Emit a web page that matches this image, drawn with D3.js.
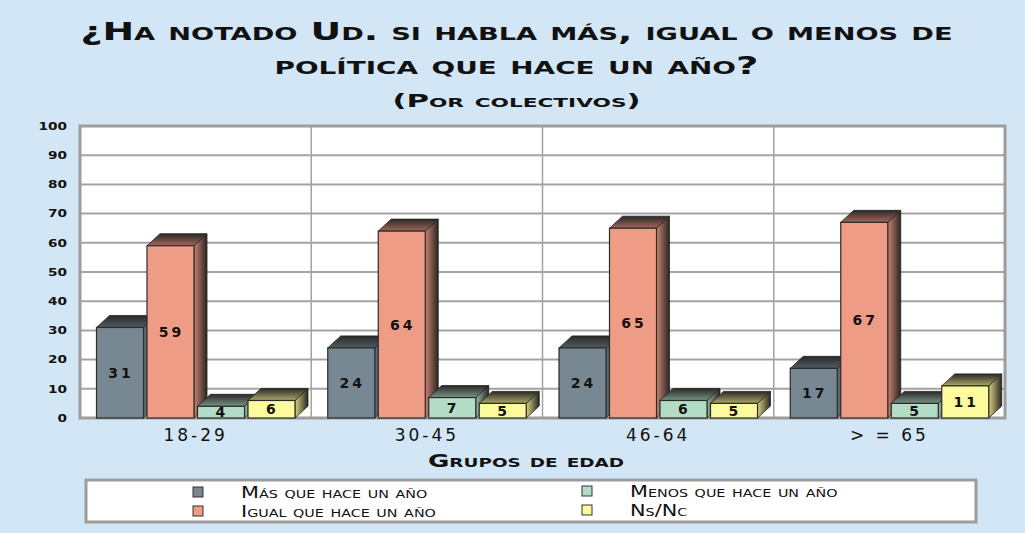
<!DOCTYPE html>
<html>
<head>
<meta charset="utf-8">
<script src="https://cdn.jsdelivr.net/npm/d3@7"></script>
<style>
  body { margin: 0; background: #d3e6f5; }
  svg { display: block; }
  text { font-family: "DejaVu Sans", sans-serif; font-weight: bold; font-variant: small-caps; fill: #111; }
</style>
</head>
<body>
<div id="chart"></div>
<script>
// data
const groups = ['18-29', '30-45', '46-64', '> = 65'];
const series = ['Más que hace un año', 'Igual que hace un año', 'Menos que hace un año', 'Ns/Nc'];
const mas = [31, 24, 24, 17];
const igual = [59, 64, 65, 67];
const menos = [4, 7, 6, 5];
const nsnc = [6, 5, 5, 11];
const yTicks = [0, 10, 20, 30, 40, 50, 60, 70, 80, 90, 100];

const colours = ['#778892', '#ef9c86', '#b2dcc6', '#fcfa9c'];
const values = [mas, igual, menos, nsnc];

const width = 1025, height = 533;
const depthX = 13, depthY = 12;

const svg = d3.select('#chart').append('svg')
  .attr('width', width)
  .attr('height', height);

svg.append('rect').attr('width', width).attr('height', height).attr('fill', '#d3e6f5');

const defs = svg.append('defs');
colours.forEach((c, i) => {
  const side = defs.append('linearGradient').attr('id', 'side' + i)
    .attr('x1', 0).attr('x2', 1).attr('y1', 0).attr('y2', 0);
  side.append('stop').attr('offset', '0%').attr('stop-color', d3.color(c).darker(0.5));
  side.append('stop').attr('offset', '100%').attr('stop-color', '#2a2522');
  const top = defs.append('linearGradient').attr('id', 'top' + i)
    .attr('x1', 0).attr('x2', 0).attr('y1', 0).attr('y2', 1);
  top.append('stop').attr('offset', '0%').attr('stop-color', '#2b2827');
  top.append('stop').attr('offset', '100%').attr('stop-color', d3.color(c).darker(1.1));
});

// titles
const titles = [
  { t: '¿Ha notado Ud. si habla más, igual o menos de', y: 40, len: 872, size: 25 },
  { t: 'política que hace un año?', y: 74, len: 484, size: 25 },
  { t: '(Por colectivos)', y: 107, len: 248, size: 17 }
];
svg.selectAll('text.title').data(titles).enter().append('text')
  .attr('class', 'title')
  .attr('x', width / 2 + 4)
  .attr('y', (d) => d.y)
  .attr('text-anchor', 'middle')
  .attr('textLength', (d) => d.len)
  .attr('lengthAdjust', 'spacingAndGlyphs')
  .style('font-size', (d) => d.size + 'px')
  .text((d) => d.t);

const x = d3.scaleBand().domain(groups).range([80, 1005]);
const xi = d3.scaleBand().domain(series).range([16.5, 215]).paddingInner(0.069);
const y = d3.scaleLinear().domain([0, 100]).range([418, 126]);

// plot background + grid
svg.append('rect')
  .attr('x', 80).attr('y', 126).attr('width', 925).attr('height', 292)
  .attr('fill', '#fff');

svg.append('g').selectAll('line').data(yTicks).enter().append('line')
  .attr('x1', 80).attr('x2', 1005)
  .attr('y1', (d) => y(d)).attr('y2', (d) => y(d))
  .attr('stroke', '#a3a3a3').attr('stroke-width', 2);

svg.append('g').selectAll('line').data(groups.slice(1)).enter().append('line')
  .attr('x1', (d) => x(d)).attr('x2', (d) => x(d))
  .attr('y1', 126).attr('y2', 418)
  .attr('stroke', '#a3a3a3').attr('stroke-width', 1.5);

svg.append('rect')
  .attr('x', 80).attr('y', 126).attr('width', 925).attr('height', 292)
  .attr('fill', 'none').attr('stroke', '#9c9c9c').attr('stroke-width', 3);

// y axis - wide, squat digits
const yAxis = svg.append('g')
  .attr('transform', 'translate(67,0)')
  .call(d3.axisLeft(y).tickValues(yTicks).tickSize(0).tickPadding(0));
yAxis.select('.domain').remove();
yAxis.selectAll('text')
  .style('font-size', '10px')
  .style('font-family', '"DejaVu Sans", sans-serif').style('font-weight', 'bold')
  .attr('textLength', (d) => String(d).length * 9.5)
  .attr('lengthAdjust', 'spacingAndGlyphs')
  .attr('fill', '#111');

// bars
const barData = [];
groups.forEach((g, gi) => {
  series.forEach((s, si) => {
    barData.push({ g, s, si, v: values[si][gi] });
  });
});

const bars = svg.append('g').selectAll('g.bar').data(barData).enter().append('g')
  .attr('class', 'bar');

bars.each(function (d) {
  const sel = d3.select(this);
  const x0 = x(d.g) + xi(d.s);
  const x1 = x0 + xi.bandwidth();
  const y0 = y(0);
  const y1 = y(d.v);
  // side face
  sel.append('path')
    .attr('d', `M${x1},${y1}L${x1 + depthX},${y1 - depthY}L${x1 + depthX},${y0 - depthY}L${x1},${y0}Z`)
    .attr('fill', `url(#side${d.si})`).attr('stroke', '#222').attr('stroke-width', 0.8);
  // top face
  sel.append('path')
    .attr('d', `M${x0},${y1}L${x0 + depthX},${y1 - depthY}L${x1 + depthX},${y1 - depthY}L${x1},${y1}Z`)
    .attr('fill', `url(#top${d.si})`).attr('stroke', '#222').attr('stroke-width', 0.8);
  // front face
  sel.append('rect')
    .attr('x', x0).attr('y', y1).attr('width', xi.bandwidth()).attr('height', y0 - y1)
    .attr('fill', colours[d.si]).attr('stroke', '#2b2b2b').attr('stroke-width', 1.2);
  sel.append('text')
    .attr('x', (x0 + x1) / 2 + 1)
    .attr('y', (y0 + y1) / 2 + 5)
    .attr('text-anchor', 'middle')
    .style('font-size', '14px').style('letter-spacing', '3px')
    .style('font-variant', 'normal')
    .text(d.v);
});

// x axis labels
const xAxis = svg.append('g')
  .attr('transform', 'translate(0,426)')
  .call(d3.axisBottom(x).tickSize(0).tickPadding(0));
xAxis.select('.domain').remove();
xAxis.selectAll('text')
  .attr('dy', '0.9em')
  .style('font-size', '17px').style('letter-spacing', '3px').style('font-weight', 'normal')
  .style('font-family', '"DejaVu Sans", sans-serif').style('font-variant', 'normal')
  .attr('fill', '#111');

svg.append('text')
  .attr('x', 526).attr('y', 467)
  .attr('text-anchor', 'middle')
  .attr('textLength', 196).attr('lengthAdjust', 'spacingAndGlyphs')
  .style('font-size', '17px')
  .text('Grupos de edad');

// legend
svg.append('rect')
  .attr('x', 86).attr('y', 480).attr('width', 890).attr('height', 42)
  .attr('fill', '#fff').attr('stroke', '#9c9c9c').attr('stroke-width', 3);

const legendPos = [
  { x: 193, y: 487 }, { x: 193, y: 506 }, { x: 582, y: 486 }, { x: 582, y: 505 }
];
const legend = svg.append('g').selectAll('g').data(series).enter().append('g')
  .attr('transform', (d, i) => `translate(${legendPos[i].x},${legendPos[i].y})`);
legend.append('rect')
  .attr('width', 10).attr('height', 10)
  .attr('fill', (d, i) => colours[i]).attr('stroke', '#333').attr('stroke-width', 1);
legend.append('text')
  .attr('x', 48).attr('y', 11)
  .style('font-size', '16px').style('font-weight', 'normal')
  .text((d) => d)
  .attr('textLength', function () { return this.getComputedTextLength() * 1.3; })
  .attr('lengthAdjust', 'spacingAndGlyphs');
</script>
</body>
</html>
